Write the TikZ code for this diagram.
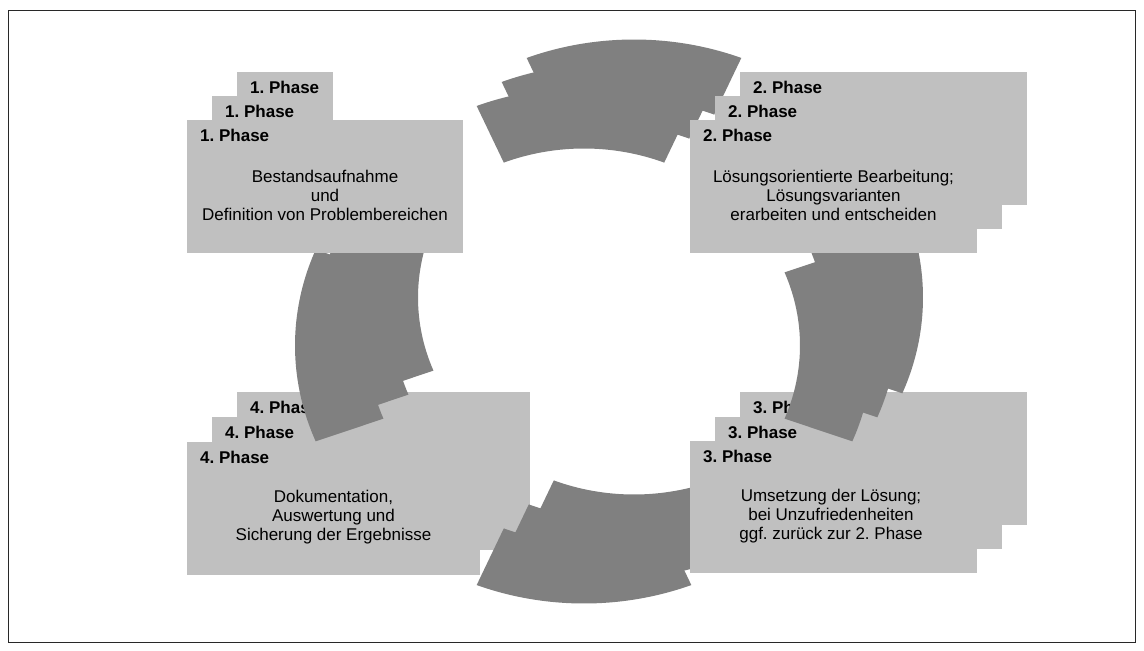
\documentclass[tikz,border=0pt]{standalone}
\usepackage{fontspec}
\setmainfont{Liberation Sans}
\definecolor{ringgray}{RGB}{128,128,128}
\definecolor{panelgray}{RGB}{192,192,192}
\definecolor{framegray}{RGB}{40,40,40}

% one copy of a ring segment: #1,#2 = offset of the copy, #3 = middle angle
\newcommand\ringseg[3]{%
  \fill[ringgray, shift={({634+#1},{297.5+#2})}]
    ({-(#3-21.8)}:289 and 258)
    arc[start angle={-(#3-21.8)}, end angle={-(#3+21.8)}, x radius=289, y radius=258]
    -- ({-(#3+21.8)}:216 and 197)
    arc[start angle={-(#3+21.8)}, end angle={-(#3-21.8)}, x radius=216, y radius=197]
    -- cycle;}
% a stacked segment: back, middle and front copy
\newcommand\ringstack[1]{%
  \ringseg{0}{0}{#1}\ringseg{-25}{24}{#1}\ringseg{-50}{48}{#1}}

\begin{document}
\frenchspacing
\begin{tikzpicture}[x=1pt,y=-1pt,
  panel/.style={fill=panelgray, draw=none},
  phasetag/.style={anchor=base west, inner sep=0pt,
    font=\fontsize{17}{19}\selectfont\bfseries},
  phasebody/.style={align=center, inner sep=0pt,
    font=\fontsize{17}{19}\selectfont}]

\useasboundingbox[fill=white] (0,0) rectangle (1144,651);
\draw[framegray, line width=1pt] (8.5,10.5) rectangle (1135.5,642.5);

% ---- phase 4 (bottom left)
\fill[panel] (237,392) rectangle (530,525);
\node[phasetag] (p4c) at (250,413.5) {4. Phase};
\fill[panel] (212,417) rectangle (530,550);
\node[phasetag] (p4b) at (225,438.5) {4. Phase};
\fill[panel] (187,442) rectangle (480,575);
\node[phasetag] (p4a) at (200,463.5) {4. Phase};
\node[phasebody] (t4) at (333.5,518)
  {\strut Dokumentation,\\Auswertung und\\Sicherung der Ergebnisse\strut};

% ---- ring segments at the bottom and on the left
\ringstack{270}
\ringstack{180}

% ---- phase 1 (top left)
\fill[panel] (237,72) rectangle (333,120);
\node[phasetag] (p1c) at (250,93.5) {1. Phase};
\fill[panel] (212,96) rectangle (333,120);
\node[phasetag] (p1b) at (225,117.5) {1. Phase};
\fill[panel] (187,120) rectangle (463,253);
\node[phasetag] (p1a) at (200,141.5) {1. Phase};
\node[phasebody] (t1) at (325,198)
  {\strut Bestandsaufnahme\\und\\Definition von Problembereichen\strut};

% ---- ring segment at the top
\ringstack{90}

% ---- phase 3 (bottom right)
\fill[panel] (740,392) rectangle (1027,525);
\node[phasetag] (p3c) at (753,413.5) {3. Phase};
\fill[panel] (715,417) rectangle (1002,549);
\node[phasetag] (p3b) at (728,438.5) {3. Phase};
\fill[panel] (690,441) rectangle (977,573);
\node[phasetag] (p3a) at (703,462.5) {3. Phase};
\node[phasebody] (t3) at (831,516.5)
  {\strut Umsetzung der Lösung;\\bei Unzufriedenheiten\\ggf. zurück zur 2. Phase\strut};

% ---- ring segment on the right
\ringstack{0}

% ---- phase 2 (top right)
\fill[panel] (740,72) rectangle (1027,205);
\node[phasetag] (p2c) at (753,93.5) {2. Phase};
\fill[panel] (715,96) rectangle (1002,229);
\node[phasetag] (p2b) at (728,117.5) {2. Phase};
\fill[panel] (690,120) rectangle (977,253);
\node[phasetag] (p2a) at (703,141.5) {2. Phase};
\node[phasebody] (t2) at (833.5,198)
  {\strut Lösungsorientierte Bearbeitung;\\Lösungsvarianten\\erarbeiten und entscheiden\strut};

\end{tikzpicture}
\end{document}
